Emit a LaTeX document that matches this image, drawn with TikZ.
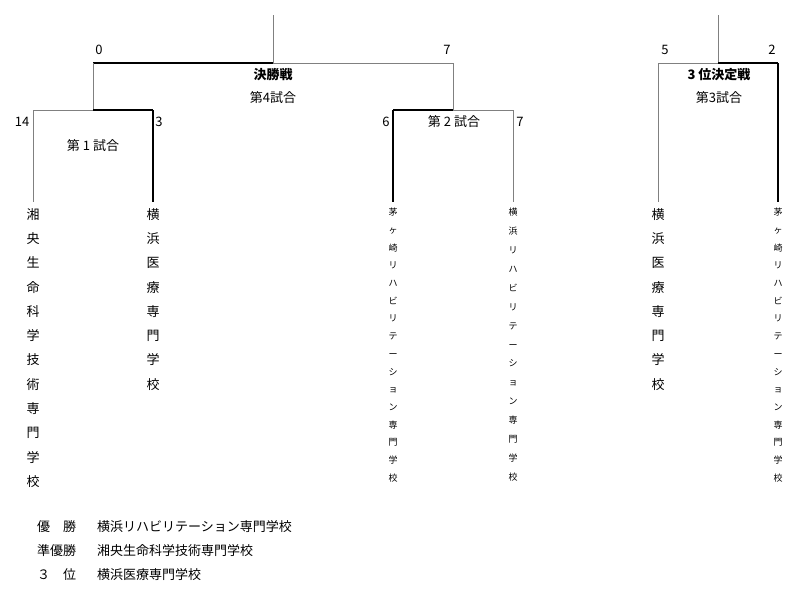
\documentclass[tikz,border=0pt]{standalone}
\usepackage{fontspec}
\setmainfont{Noto Sans CJK JP}
\begin{document}
\begin{tikzpicture}[x=1pt,y=-1pt,
  th/.style={draw=black,line width=1.6pt},
  tn/.style={draw=black!50,line width=1pt},
  lab/.style={font=\fontsize{13}{15}\selectfont,inner sep=0pt},
  vbig/.style={anchor=north,inner sep=0pt,align=center,font=\fontsize{13}{24.3}\selectfont},
  vsm/.style={anchor=north,inner sep=0pt,align=center,font=\fontsize{9}{17.7}\selectfont},
  vsmb/.style={anchor=north,inner sep=0pt,align=center,font=\fontsize{9}{18.9}\selectfont}]
\useasboundingbox (0,0) rectangle (800,597);
% final
\coordinate (ft) at (273,15); \coordinate (fm) at (273,63);
\coordinate (fl) at (93,63); \coordinate (fr) at (453,63);
\coordinate (m1) at (93,110); \coordinate (m2) at (453,110);
\coordinate (a1) at (33,110); \coordinate (b1) at (153,110);
\coordinate (a2) at (393,110); \coordinate (b2) at (513,110);
\coordinate (a1b) at (33,202); \coordinate (b1b) at (153,202);
\coordinate (a2b) at (393,202); \coordinate (b2b) at (513,202);
\draw[tn] (ft)--(fm); \draw[th] (fl)--(fm); \draw[tn] (fm)--(fr);
\draw[tn] (fl)--(m1); \draw[tn] (fr)--(m2);
\draw[tn] (a1)--(m1); \draw[th] (m1)--(b1);
\draw[th] (a2)--(m2); \draw[tn] (m2)--(b2);
\draw[tn] (a1)--(a1b); \draw[th] (b1)--(b1b);
\draw[th] (a2)--(a2b); \draw[tn] (b2)--(b2b);
% third place
\coordinate (tt) at (718,15); \coordinate (tm) at (718,63);
\coordinate (tl) at (658,63); \coordinate (tr) at (778,63);
\coordinate (tlb) at (658,202); \coordinate (trb) at (778,202);
\draw[tn] (tt)--(tm); \draw[tn] (tl)--(tm); \draw[th] (tm)--(tr);
\draw[tn] (tl)--(tlb); \draw[th] (tr)--(trb);
% scores
\node[lab] (s0) at (99,50) {0};
\node[lab] (s7) at (447,50) {7};
\node[lab] (s14) at (22,122) {14};
\node[lab] (s3) at (159,122) {3};
\node[lab] (s6) at (386,122) {6};
\node[lab] (s7b) at (520,122) {7};
\node[lab] (s5) at (665,50) {5};
\node[lab] (s2) at (772,50) {2};
% titles
\node[lab,font=\fontsize{13}{15}\selectfont\bfseries] (f1) at (273,75) {決勝戦};
\node[lab] (f2) at (273,98) {第4試合};
\node[lab] (g1) at (93,146) {第 1 試合};
\node[lab] (g2) at (454,122) {第 2 試合};
\node[lab,font=\fontsize{13}{15}\selectfont\bfseries] (t1) at (719,75) {3 位決定戦};
\node[lab] (t2) at (719,98) {第3試合};
% teams
\node[vbig] (n1) at (33,208) {湘\\央\\生\\命\\科\\学\\技\\術\\専\\門\\学\\校};
\node[vbig] (n2) at (153,208) {横\\浜\\医\\療\\専\\門\\学\\校};
\node[vsm] (n3) at (393,208) {茅\\ヶ\\崎\\リ\\ハ\\ビ\\リ\\テ\\ー\\シ\\ョ\\ン\\専\\門\\学\\校};
\node[vsmb] (n4) at (513,208) {横\\浜\\リ\\ハ\\ビ\\リ\\テ\\ー\\シ\\ョ\\ン\\専\\門\\学\\校};
\node[vbig] (n5) at (658,208) {横\\浜\\医\\療\\専\\門\\学\\校};
\node[vsm] (n6) at (778,208) {茅\\ヶ\\崎\\リ\\ハ\\ビ\\リ\\テ\\ー\\シ\\ョ\\ン\\専\\門\\学\\校};
% results
\node[lab,anchor=west] (r1) at (37,527) {優　勝};
\node[lab,anchor=west] (r1b) at (97,527) {横浜リハビリテーション専門学校};
\node[lab,anchor=west] (r2) at (37,551) {準優勝};
\node[lab,anchor=west] (r2b) at (97,551) {湘央生命科学技術専門学校};
\node[lab,anchor=west] (r3) at (37,575) {３　位};
\node[lab,anchor=west] (r3b) at (97,575) {横浜医療専門学校};
\end{tikzpicture}
\end{document}
